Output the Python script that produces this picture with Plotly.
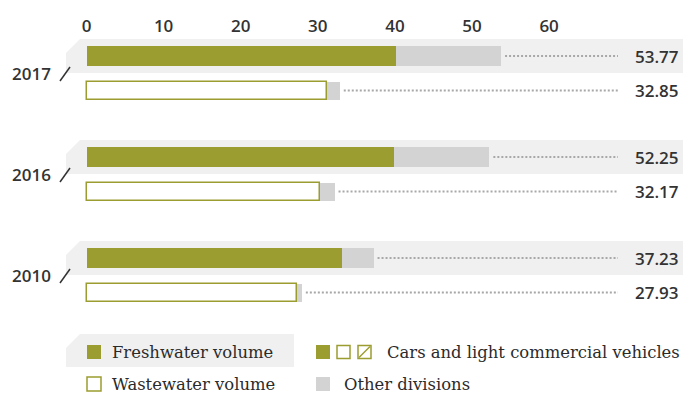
import plotly.graph_objects as go

# ---------------- data ----------------
years = ["2017", "2016", "2010"]
fresh_total = [53.77, 52.25, 37.23]
fresh_cars = [40.2, 39.9, 33.1]
waste_total = [32.85, 32.17, 27.93]
waste_cars = [31.15, 30.3, 27.3]
tick_vals = [0, 10, 20, 30, 40, 50, 60]

legend_left = ["Freshwater volume", "Wastewater volume"]
legend_right = ["Cars and light commercial vehicles", "Other divisions"]

# ---------------- style / layout ----------------
OLIVE = "#9c9d30"
GREY = "#d3d3d3"
BAND = "#f0f0f0"
TXT = "#333333"
DOT = "#a8a8a8"
W, H = 683, 394
TOP = 36
X0PX, PXU = 86.5, 7.71  # pixel of zero, pixels per unit


def px2x(p):
    return (p - X0PX) / PXU


FIRST_ROW = 56
GROUP_STEP = 101
WASTE_OFF = 34.5
fresh_y = [FIRST_ROW + GROUP_STEP * i for i in range(len(years))]
waste_y = [y + WASTE_OFF for y in fresh_y]

fig = go.Figure()

fig.add_trace(go.Bar(orientation="h", y=fresh_y, x=fresh_cars, base=[0] * 3, width=20,
                     marker=dict(color=OLIVE, line=dict(width=0)), hoverinfo="skip"))
fig.add_trace(go.Bar(orientation="h", y=fresh_y,
                     x=[t - c for t, c in zip(fresh_total, fresh_cars)], base=fresh_cars, width=20,
                     marker=dict(color=GREY, line=dict(width=0)), hoverinfo="skip"))
fig.add_trace(go.Bar(orientation="h", y=waste_y,
                     x=[t - c for t, c in zip(waste_total, waste_cars)], base=waste_cars, width=18,
                     marker=dict(color=GREY, line=dict(width=0)), hoverinfo="skip"))
fig.add_trace(go.Bar(orientation="h", y=waste_y, x=waste_cars, base=[0] * 3, width=18,
                     marker=dict(color="white", line=dict(color=OLIVE, width=1.5)), hoverinfo="skip"))

shapes = []
annotations = []


def band(x0p, x1p, y0, y1, cut=14):
    path = (f"M {px2x(x0p)},{y0 + cut} L {px2x(x0p + cut)},{y0} L {px2x(x1p)},{y0} "
            f"L {px2x(x1p)},{y1} L {px2x(x0p)},{y1} Z")
    return dict(type="path", path=path, xref="x", yref="y", fillcolor=BAND,
                line=dict(width=0), layer="below")


SANS = dict(family="Open Sans", size=17, color=TXT, weight=600)

for i, yr in enumerate(years):
    fy, wy = fresh_y[i], waste_y[i]
    shapes.append(band(66, W, fy - 17, fy + 17))
    # year label + slash
    annotations.append(dict(x=px2x(53), y=fy + 17, xref="x", yref="y", text=yr, showarrow=False,
                            xanchor="right", yanchor="middle", font=SANS))
    shapes.append(dict(type="line", xref="x", yref="y", x0=px2x(60), x1=px2x(70),
                       y0=fy + 25, y1=fy + 11, line=dict(color=TXT, width=1.5)))
    # dotted leaders
    for tot, yy in ((fresh_total[i], fy), (waste_total[i], wy)):
        shapes.append(dict(type="line", xref="x", yref="y", x0=tot + px2x(X0PX + 4), x1=px2x(618),
                           y0=yy, y1=yy, line=dict(color=DOT, width=2, dash="2px,2px")))
        annotations.append(dict(x=px2x(681), y=yy, xref="x", yref="y", text=f"{tot:.2f}",
                                showarrow=False, xanchor="right", yanchor="middle", font=SANS))

# ---------------- legend (drawn) ----------------
LY1, LY2 = 352, 384
shapes.append(band(66, 294, 334, 367))


def sq(xp, yc, fill, size=14, line=None):
    return dict(type="rect", xref="x", yref="y", x0=px2x(xp), x1=px2x(xp + size),
                y0=yc - size / 2, y1=yc + size / 2, fillcolor=fill,
                line=line if line else dict(width=0))


olive_line = dict(color=OLIVE, width=1.5)
shapes.append(sq(87, LY1, OLIVE))
shapes.append(sq(87, LY2, "white", line=olive_line))
shapes.append(sq(316, LY1, OLIVE))
shapes.append(sq(337, LY1, "white", size=13, line=olive_line))
shapes.append(sq(358, LY1, "white", size=13, line=olive_line))
shapes.append(dict(type="line", xref="x", yref="y", x0=px2x(359), x1=px2x(370),
                   y0=LY1 + 5.5, y1=LY1 - 5.5, line=dict(color=OLIVE, width=1.5)))
shapes.append(sq(316, LY2, GREY))

serif = dict(family="DejaVu Serif", size=16.4, color="#2b2b2b")
for txt, xp, yy in ((legend_left[0], 110, LY1 + 0.5), (legend_left[1], 110, LY2),
                    (legend_right[0], 385, LY1 + 0.5), (legend_right[1], 342, LY2)):
    annotations.append(dict(x=px2x(xp), y=yy, xref="x", yref="y", text=txt, showarrow=False,
                            xanchor="left", yanchor="middle", font=serif))

fig.update_layout(
    width=W, height=H,
    margin=dict(l=0, r=0, t=TOP, b=0),
    paper_bgcolor="white", plot_bgcolor="white",
    barmode="overlay", showlegend=False, bargap=0,
    shapes=shapes, annotations=annotations,
    xaxis=dict(range=[px2x(0), px2x(W)], side="top", tickvals=tick_vals,
               showgrid=False, zeroline=False, showline=False,
               ticks="", tickfont=SANS, fixedrange=True),
    yaxis=dict(range=[H, TOP], showgrid=False, zeroline=False, showline=False,
               showticklabels=False, fixedrange=True),
)

fig.write_html("out.html", config=dict(displayModeBar=False),
               post_script="document.body.style.margin='0';document.body.style.overflow='hidden';")
